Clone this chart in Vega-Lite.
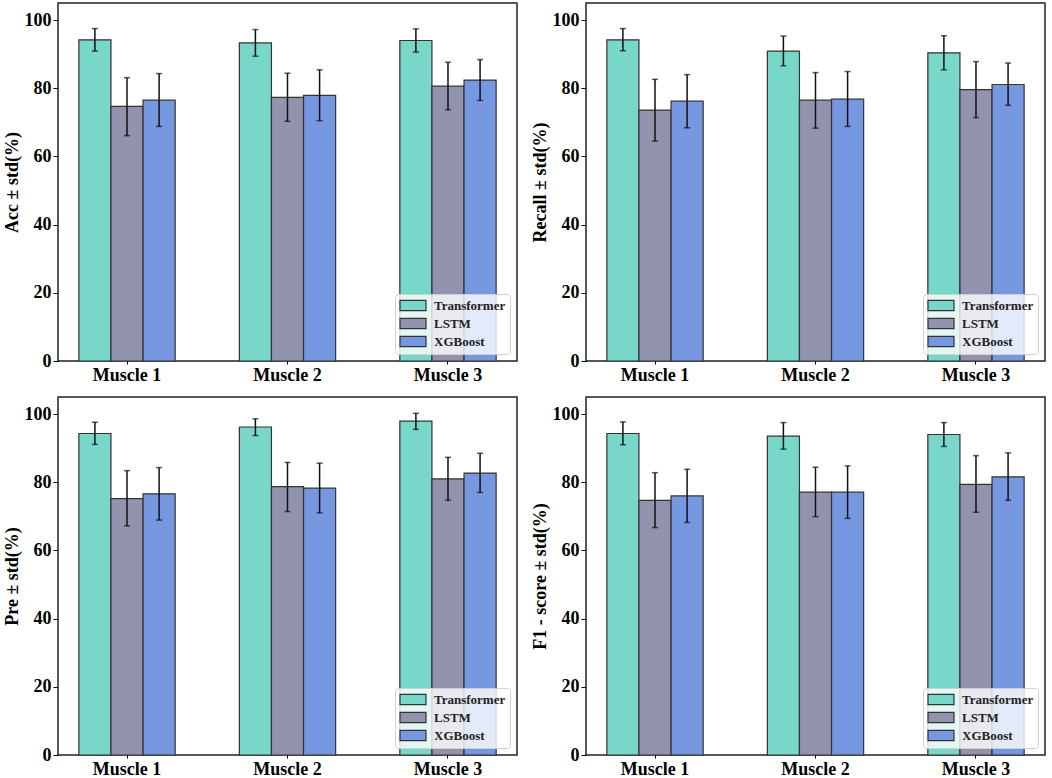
{
  "$schema": "https://vega.github.io/schema/vega-lite/v6.json",
  "padding": {"top": 2, "left": 2, "right": 8, "bottom": 0},
  "background": "white",
  "datasets": {
    "d": [
      {"metric": "Acc", "muscle": "Muscle 1", "model": "Transformer", "value": 94.2, "hi": 97.5, "lo": 90.9},
      {"metric": "Acc", "muscle": "Muscle 1", "model": "LSTM", "value": 74.7, "hi": 83.1, "lo": 66.1},
      {"metric": "Acc", "muscle": "Muscle 1", "model": "XGBoost", "value": 76.5, "hi": 84.3, "lo": 68.8},
      {"metric": "Acc", "muscle": "Muscle 2", "model": "Transformer", "value": 93.3, "hi": 97.2, "lo": 89.4},
      {"metric": "Acc", "muscle": "Muscle 2", "model": "LSTM", "value": 77.3, "hi": 84.4, "lo": 70.3},
      {"metric": "Acc", "muscle": "Muscle 2", "model": "XGBoost", "value": 77.9, "hi": 85.4, "lo": 70.5},
      {"metric": "Acc", "muscle": "Muscle 3", "model": "Transformer", "value": 94.0, "hi": 97.4, "lo": 90.6},
      {"metric": "Acc", "muscle": "Muscle 3", "model": "LSTM", "value": 80.6, "hi": 87.6, "lo": 73.7},
      {"metric": "Acc", "muscle": "Muscle 3", "model": "XGBoost", "value": 82.4, "hi": 88.4, "lo": 76.4},
      {"metric": "Recall", "muscle": "Muscle 1", "model": "Transformer", "value": 94.2, "hi": 97.5, "lo": 91.0},
      {"metric": "Recall", "muscle": "Muscle 1", "model": "LSTM", "value": 73.6, "hi": 82.6, "lo": 64.5},
      {"metric": "Recall", "muscle": "Muscle 1", "model": "XGBoost", "value": 76.2, "hi": 84.0, "lo": 68.4},
      {"metric": "Recall", "muscle": "Muscle 2", "model": "Transformer", "value": 90.9, "hi": 95.3, "lo": 86.6},
      {"metric": "Recall", "muscle": "Muscle 2", "model": "LSTM", "value": 76.5, "hi": 84.6, "lo": 68.3},
      {"metric": "Recall", "muscle": "Muscle 2", "model": "XGBoost", "value": 76.8, "hi": 84.9, "lo": 68.8},
      {"metric": "Recall", "muscle": "Muscle 3", "model": "Transformer", "value": 90.4, "hi": 95.4, "lo": 85.4},
      {"metric": "Recall", "muscle": "Muscle 3", "model": "LSTM", "value": 79.6, "hi": 87.8, "lo": 71.4},
      {"metric": "Recall", "muscle": "Muscle 3", "model": "XGBoost", "value": 81.1, "hi": 87.4, "lo": 75.0},
      {"metric": "Pre", "muscle": "Muscle 1", "model": "Transformer", "value": 94.3, "hi": 97.6, "lo": 91.1},
      {"metric": "Pre", "muscle": "Muscle 1", "model": "LSTM", "value": 75.2, "hi": 83.4, "lo": 67.2},
      {"metric": "Pre", "muscle": "Muscle 1", "model": "XGBoost", "value": 76.6, "hi": 84.3, "lo": 68.9},
      {"metric": "Pre", "muscle": "Muscle 2", "model": "Transformer", "value": 96.2, "hi": 98.6, "lo": 93.7},
      {"metric": "Pre", "muscle": "Muscle 2", "model": "LSTM", "value": 78.7, "hi": 85.8, "lo": 71.4},
      {"metric": "Pre", "muscle": "Muscle 2", "model": "XGBoost", "value": 78.3, "hi": 85.6, "lo": 71.0},
      {"metric": "Pre", "muscle": "Muscle 3", "model": "Transformer", "value": 97.9, "hi": 100.2, "lo": 95.5},
      {"metric": "Pre", "muscle": "Muscle 3", "model": "LSTM", "value": 81.0, "hi": 87.3, "lo": 74.7},
      {"metric": "Pre", "muscle": "Muscle 3", "model": "XGBoost", "value": 82.7, "hi": 88.5, "lo": 77.0},
      {"metric": "F1", "muscle": "Muscle 1", "model": "Transformer", "value": 94.3, "hi": 97.7, "lo": 91.0},
      {"metric": "F1", "muscle": "Muscle 1", "model": "LSTM", "value": 74.7, "hi": 82.8, "lo": 66.7},
      {"metric": "F1", "muscle": "Muscle 1", "model": "XGBoost", "value": 76.0, "hi": 83.8, "lo": 68.2},
      {"metric": "F1", "muscle": "Muscle 2", "model": "Transformer", "value": 93.5, "hi": 97.5, "lo": 89.7},
      {"metric": "F1", "muscle": "Muscle 2", "model": "LSTM", "value": 77.1, "hi": 84.4, "lo": 69.9},
      {"metric": "F1", "muscle": "Muscle 2", "model": "XGBoost", "value": 77.1, "hi": 84.8, "lo": 69.4},
      {"metric": "F1", "muscle": "Muscle 3", "model": "Transformer", "value": 94.0, "hi": 97.5, "lo": 90.5},
      {"metric": "F1", "muscle": "Muscle 3", "model": "LSTM", "value": 79.4, "hi": 87.8, "lo": 71.2},
      {"metric": "F1", "muscle": "Muscle 3", "model": "XGBoost", "value": 81.6, "hi": 88.6, "lo": 74.7}
    ]
  },
  "data": {"name": "d"},
  "columns": 2,
  "bounds": "flush",
  "spacing": {"row": 36, "column": 69},
  "resolve": {"legend": {"color": "independent"}},
  "concat": [
    {
      "width": 459, "height": 358,
      "transform": [{"filter": "datum.metric === 'Acc'"}],
      "encoding": {
        "x": {"field": "muscle", "type": "nominal", "scale": {"paddingInner": 0.4, "paddingOuter": 0.13}, "axis": {"title": null}},
        "xOffset": {"field": "model", "type": "nominal", "sort": ["Transformer", "LSTM", "XGBoost"], "scale": {"paddingInner": 0, "paddingOuter": 0}}
      },
      "layer": [
        {"mark": {"type": "bar", "stroke": "#333", "strokeWidth": 1.2},
         "encoding": {
           "y": {"field": "value", "type": "quantitative", "stack": null, "scale": {"domain": [0, 105], "nice": false}, "axis": {"values": [0, 20, 40, 60, 80, 100]}, "title": "Acc ± std(%)"},
           "color": {"field": "model", "type": "nominal", "scale": {"domain": ["Transformer", "LSTM", "XGBoost"], "range": ["#78d7c9", "#9294ad", "#7698e1"]}, "legend": {"orient": "bottom-right"}}
         }},
        {"mark": {"type": "rule", "color": "#111", "strokeWidth": 1.5},
         "encoding": {"y": {"field": "lo", "type": "quantitative", "title": "Acc ± std(%)"}, "y2": {"field": "hi"}}},
        {"mark": {"type": "tick", "color": "#111", "size": 6, "thickness": 1.5},
         "encoding": {"y": {"field": "lo", "type": "quantitative", "title": "Acc ± std(%)"}}},
        {"mark": {"type": "tick", "color": "#111", "size": 6, "thickness": 1.5},
         "encoding": {"y": {"field": "hi", "type": "quantitative", "title": "Acc ± std(%)"}}}
      ]
    },
    {
      "width": 459, "height": 358,
      "transform": [{"filter": "datum.metric === 'Recall'"}],
      "encoding": {
        "x": {"field": "muscle", "type": "nominal", "scale": {"paddingInner": 0.4, "paddingOuter": 0.13}, "axis": {"title": null}},
        "xOffset": {"field": "model", "type": "nominal", "sort": ["Transformer", "LSTM", "XGBoost"], "scale": {"paddingInner": 0, "paddingOuter": 0}}
      },
      "layer": [
        {"mark": {"type": "bar", "stroke": "#333", "strokeWidth": 1.2},
         "encoding": {
           "y": {"field": "value", "type": "quantitative", "stack": null, "scale": {"domain": [0, 105], "nice": false}, "axis": {"values": [0, 20, 40, 60, 80, 100]}, "title": "Recall ± std(%)"},
           "color": {"field": "model", "type": "nominal", "scale": {"domain": ["Transformer", "LSTM", "XGBoost"], "range": ["#78d7c9", "#9294ad", "#7698e1"]}, "legend": {"orient": "bottom-right"}}
         }},
        {"mark": {"type": "rule", "color": "#111", "strokeWidth": 1.5},
         "encoding": {"y": {"field": "lo", "type": "quantitative", "title": "Recall ± std(%)"}, "y2": {"field": "hi"}}},
        {"mark": {"type": "tick", "color": "#111", "size": 6, "thickness": 1.5},
         "encoding": {"y": {"field": "lo", "type": "quantitative", "title": "Recall ± std(%)"}}},
        {"mark": {"type": "tick", "color": "#111", "size": 6, "thickness": 1.5},
         "encoding": {"y": {"field": "hi", "type": "quantitative", "title": "Recall ± std(%)"}}}
      ]
    },
    {
      "width": 459, "height": 358,
      "transform": [{"filter": "datum.metric === 'Pre'"}],
      "encoding": {
        "x": {"field": "muscle", "type": "nominal", "scale": {"paddingInner": 0.4, "paddingOuter": 0.13}, "axis": {"title": null}},
        "xOffset": {"field": "model", "type": "nominal", "sort": ["Transformer", "LSTM", "XGBoost"], "scale": {"paddingInner": 0, "paddingOuter": 0}}
      },
      "layer": [
        {"mark": {"type": "bar", "stroke": "#333", "strokeWidth": 1.2},
         "encoding": {
           "y": {"field": "value", "type": "quantitative", "stack": null, "scale": {"domain": [0, 105], "nice": false}, "axis": {"values": [0, 20, 40, 60, 80, 100]}, "title": "Pre ± std(%)"},
           "color": {"field": "model", "type": "nominal", "scale": {"domain": ["Transformer", "LSTM", "XGBoost"], "range": ["#78d7c9", "#9294ad", "#7698e1"]}, "legend": {"orient": "bottom-right"}}
         }},
        {"mark": {"type": "rule", "color": "#111", "strokeWidth": 1.5},
         "encoding": {"y": {"field": "lo", "type": "quantitative", "title": "Pre ± std(%)"}, "y2": {"field": "hi"}}},
        {"mark": {"type": "tick", "color": "#111", "size": 6, "thickness": 1.5},
         "encoding": {"y": {"field": "lo", "type": "quantitative", "title": "Pre ± std(%)"}}},
        {"mark": {"type": "tick", "color": "#111", "size": 6, "thickness": 1.5},
         "encoding": {"y": {"field": "hi", "type": "quantitative", "title": "Pre ± std(%)"}}}
      ]
    },
    {
      "width": 459, "height": 358,
      "transform": [{"filter": "datum.metric === 'F1'"}],
      "encoding": {
        "x": {"field": "muscle", "type": "nominal", "scale": {"paddingInner": 0.4, "paddingOuter": 0.13}, "axis": {"title": null}},
        "xOffset": {"field": "model", "type": "nominal", "sort": ["Transformer", "LSTM", "XGBoost"], "scale": {"paddingInner": 0, "paddingOuter": 0}}
      },
      "layer": [
        {"mark": {"type": "bar", "stroke": "#333", "strokeWidth": 1.2},
         "encoding": {
           "y": {"field": "value", "type": "quantitative", "stack": null, "scale": {"domain": [0, 105], "nice": false}, "axis": {"values": [0, 20, 40, 60, 80, 100]}, "title": "F1 - score ± std(%)"},
           "color": {"field": "model", "type": "nominal", "scale": {"domain": ["Transformer", "LSTM", "XGBoost"], "range": ["#78d7c9", "#9294ad", "#7698e1"]}, "legend": {"orient": "bottom-right"}}
         }},
        {"mark": {"type": "rule", "color": "#111", "strokeWidth": 1.5},
         "encoding": {"y": {"field": "lo", "type": "quantitative", "title": "F1 - score ± std(%)"}, "y2": {"field": "hi"}}},
        {"mark": {"type": "tick", "color": "#111", "size": 6, "thickness": 1.5},
         "encoding": {"y": {"field": "lo", "type": "quantitative", "title": "F1 - score ± std(%)"}}},
        {"mark": {"type": "tick", "color": "#111", "size": 6, "thickness": 1.5},
         "encoding": {"y": {"field": "hi", "type": "quantitative", "title": "F1 - score ± std(%)"}}}
      ]
    }
  ],
  "config": {
    "view": {"stroke": "#222", "strokeWidth": 1.5},
    "axis": {
      "grid": false, "domain": false,
      "labelFont": "Liberation Serif", "labelFontWeight": "bold", "labelColor": "#000",
      "titleFont": "Liberation Serif", "titleFontWeight": "bold", "titleColor": "#000", "titleFontSize": 18,
      "tickColor": "#000"
    },
    "axisX": {"labelFontSize": 18, "ticks": true, "tickSize": 3, "labelPadding": 2, "labelAngle": 0},
    "axisY": {"labelFontSize": 18, "tickSize": 5, "labelPadding": 2, "titlePadding": 3},
    "legend": {
      "title": null,
      "fillColor": "rgba(255,255,255,0.8)", "strokeColor": "#d0d0d0", "cornerRadius": 3,
      "padding": 4, "offset": 7, "rowPadding": 1,
      "labelFont": "Liberation Serif", "labelFontWeight": "bold", "labelFontSize": 13, "labelColor": "#222",
      "labelOffset": 20,
      "symbolType": "M-1,-0.8H3V0.8H-1Z", "symbolSize": 169,
      "symbolStrokeColor": "#333", "symbolStrokeWidth": 1.2, "symbolOpacity": 1
    }
  }
}
